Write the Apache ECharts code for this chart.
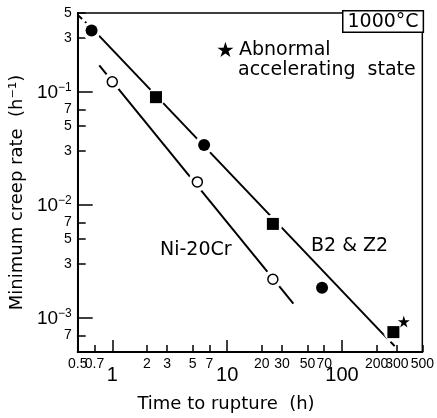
<!DOCTYPE html>
<html>
<head>
<meta charset="utf-8">
<script src="https://cdn.jsdelivr.net/npm/echarts@6/dist/echarts.min.js"></script>
<style>
  html, body { margin: 0; padding: 0; background: #fff; }
  #chart { width: 437px; height: 418px; }
</style>
</head>
<body>
<div id="chart"></div>
<script>
// values (time in h, rate in 1/h)
var b2CircleTime = [0.66, 6.3, 67];
var b2CircleRate = [0.35, 0.034, 0.00185];
var b2SquareTime = [2.4, 25, 280];
var b2SquareRate = [0.09, 0.0068, 0.00075];
var niTime = [1.0, 5.5, 25];
var niRate = [0.123, 0.016, 0.0022];
var starTime = [345];
var starRate = [0.00093];

// fitted lines (end points)
var b2LineTime = [0.66, 230];
var b2LineRate = [0.369, 0.000713];
var b2DashTopTime = [0.5, 0.66];
var b2DashTopRate = [0.48, 0.369];
var b2DashEndTime = [230, 290];
var b2DashEndRate = [0.000713, 0.000558];
var niLineTime = [0.77, 37.7];
var niLineRate = [0.172, 0.00134];

// tick values
var xTicks = [0.5, 0.7, 1, 2, 3, 5, 7, 10, 20, 30, 50, 70, 100, 200, 300, 500];
var xLabels = [0.7, 1, 2, 3, 5, 7, 10, 20, 30, 50, 70, 100, 200, 300, 500];
var xFirstLabel = [0.5];   // on the 2nd axis so it is not dropped next to 0.7
var xMajor = [1, 10, 100];
var yTicks = [0.5, 0.3, 0.1, 0.07, 0.05, 0.03, 0.01, 0.007, 0.005, 0.003, 0.001, 0.0007];
var yMajor = [0.1, 0.01, 0.001];

function pairs(xs, ys) {
    return xs.map(function (x, i) { return [x, ys[i]]; });
}
function isPow10(v) {
    var l = Math.log10(v);
    return Math.abs(l - Math.round(l)) < 1e-6;
}

var numFont = '"Liberation Sans", sans-serif';
var txtFont = '"DejaVu Sans", sans-serif';
var starPath = 'path://M50,0 L61,35 L98,35 L68,57 L79,91 L50,70 L21,91 L32,57 L2,35 L39,35 Z';

var xLabelStyle = {
    margin: 5,
    showMinLabel: true,
    showMaxLabel: true,
    hideOverlap: false,
    color: '#000',
    formatter: function (v) {
        if (isPow10(v)) return '{big|' + v + '}';
        return '{sm|' + v + '}';
    },
    rich: {
        sm: { fontFamily: numFont, fontSize: 14, color: '#000' },
        big: { fontFamily: numFont, fontSize: 20, color: '#000', padding: [8, 0, 0, 0] }
    }
};

var chart = echarts.init(document.getElementById('chart'));

var option = {
    backgroundColor: '#fff',
    animation: false,
    grid: {
        left: 73, right: 14, top: 13, bottom: 66,
        show: true,
        borderColor: '#000',
        borderWidth: 1.5,
        backgroundColor: 'transparent'
    },
    xAxis: [{
        type: 'log',
        min: 0.5, max: 500,
        position: 'bottom',
        axisLine: { onZero: false, lineStyle: { color: '#000', width: 2 } },
        splitLine: { show: false },
        minorTick: { show: false },
        axisTick: { inside: true, length: 7, customValues: xTicks, lineStyle: { color: '#000', width: 1.5 } },
        axisLabel: Object.assign({ customValues: xLabels }, xLabelStyle),
        name: 'Time to rupture  (h)',
        nameLocation: 'middle',
        nameGap: 43,
        nameTextStyle: { fontFamily: txtFont, fontSize: 18, color: '#000', padding: [0, 48, 0, 0] }
    }, {
        type: 'log',
        min: 0.5, max: 500,
        position: 'bottom',
        axisLine: { show: false, onZero: false },
        splitLine: { show: false },
        axisLabel: Object.assign({ customValues: xFirstLabel }, xLabelStyle),
        axisTick: { inside: true, length: 12, customValues: xMajor, lineStyle: { color: '#000', width: 1.5 } }
    }],
    yAxis: [{
        type: 'log',
        min: 0.0005, max: 0.5,
        position: 'left',
        axisLine: { show: true, onZero: false, lineStyle: { color: '#000', width: 2 } },
        splitLine: { show: false },
        minorTick: { show: false },
        axisTick: { inside: true, length: 8, customValues: yTicks, lineStyle: { color: '#000', width: 1.5 } },
        axisLabel: {
            margin: 6,
            customValues: yTicks,
            showMinLabel: true,
            showMaxLabel: true,
            hideOverlap: false,
            color: '#000',
            formatter: function (v) {
                var e = Math.floor(Math.log10(v) + 1e-9);
                if (isPow10(v)) return '{b|10}{s|\u2212' + (-e) + '}';
                return '{m|' + Math.round(v / Math.pow(10, e)) + '}';
            },
            rich: {
                b: { fontFamily: numFont, fontSize: 19, color: '#000', lineHeight: 20, verticalAlign: 'bottom' },
                s: { fontFamily: numFont, fontSize: 12, color: '#000', lineHeight: 12, verticalAlign: 'top' },
                m: { fontFamily: numFont, fontSize: 14, color: '#000' }
            }
        },
        name: 'Minimum creep rate  (h\u207B\u00B9)',
        nameLocation: 'middle',
        nameRotate: 90,
        nameGap: 42,
        nameTextStyle: { fontFamily: txtFont, fontSize: 18, color: '#000', padding: [0, 20, 0, 0] }
    }, {
        type: 'log',
        min: 0.0005, max: 0.5,
        position: 'left',
        axisLine: { show: false, onZero: false },
        splitLine: { show: false },
        axisLabel: { show: false },
        axisTick: { inside: true, length: 15, customValues: yMajor, lineStyle: { color: '#000', width: 1.5 } }
    }],
    series: [
        {
            name: 'B2 fit', type: 'line', z: 2, showSymbol: false, symbol: 'none',
            data: pairs(b2LineTime, b2LineRate),
            lineStyle: { color: '#000', width: 2 }
        },
        {
            name: 'B2 fit top', type: 'line', z: 2, showSymbol: false, symbol: 'none',
            data: pairs(b2DashTopTime, b2DashTopRate),
            lineStyle: { color: '#000', width: 2, type: [6, 4] }
        },
        {
            name: 'B2 fit end', type: 'line', z: 2, showSymbol: false, symbol: 'none',
            data: pairs(b2DashEndTime, b2DashEndRate),
            lineStyle: { color: '#000', width: 2, type: [6, 4] }
        },
        {
            name: 'Ni fit', type: 'line', z: 2, showSymbol: false, symbol: 'none',
            data: pairs(niLineTime, niLineRate),
            lineStyle: { color: '#000', width: 2 }
        },
        // white halos that open a gap in the lines around the points
        {
            name: 'halo', type: 'scatter', z: 3, symbol: 'circle', symbolSize: 19,
            data: pairs(b2CircleTime, b2CircleRate).concat(pairs(b2SquareTime, b2SquareRate), pairs(niTime, niRate)),
            itemStyle: { color: '#fff', opacity: 1 }, silent: true
        },
        {
            name: 'B2 & Z2 (circle)', type: 'scatter', z: 4, symbol: 'circle', symbolSize: 12,
            data: pairs(b2CircleTime, b2CircleRate),
            itemStyle: { color: '#000', opacity: 1 }
        },
        {
            name: 'B2 & Z2 (square)', type: 'scatter', z: 4, symbol: 'rect', symbolSize: 12,
            data: pairs(b2SquareTime, b2SquareRate),
            itemStyle: { color: '#000', opacity: 1 }
        },
        {
            name: 'Ni-20Cr', type: 'scatter', z: 4, symbol: 'circle', symbolSize: 10,
            data: pairs(niTime, niRate),
            itemStyle: { color: '#fff', borderColor: '#000', borderWidth: 1.5, opacity: 1 }
        },
        {
            name: 'Abnormal', type: 'scatter', z: 4, symbol: starPath, symbolSize: 12,
            data: pairs(starTime, starRate),
            itemStyle: { color: '#000', opacity: 1 }
        }
    ],
    graphic: [
        {
            type: 'text', left: 342, top: 10, z: 10,
            style: {
                text: '1000\u00B0C', font: '19px ' + txtFont, fill: '#000',
                borderColor: '#000', borderWidth: 1.5, padding: [1, 4, 0, 4], backgroundColor: '#fff'
            }
        },
        {
            type: 'text', left: 216, top: 41, z: 10,
            style: { text: '\u2605', font: '21px ' + txtFont, fill: '#000' }
        },
        {
            type: 'text', left: 239, top: 41, z: 10,
            style: { text: 'Abnormal', font: '19px ' + txtFont, fill: '#000' }
        },
        {
            type: 'text', left: 238, top: 61, z: 10,
            style: { text: 'accelerating  state', font: '19px ' + txtFont, fill: '#000' }
        },
        {
            type: 'text', left: 160, top: 241, z: 10,
            style: { text: 'Ni-20Cr', font: '19px ' + txtFont, fill: '#000' }
        },
        {
            type: 'text', left: 311, top: 237, z: 10,
            style: { text: 'B2 & Z2', font: '19px ' + txtFont, fill: '#000' }
        }
    ]
};

chart.setOption(option);
</script>
</body>
</html>
